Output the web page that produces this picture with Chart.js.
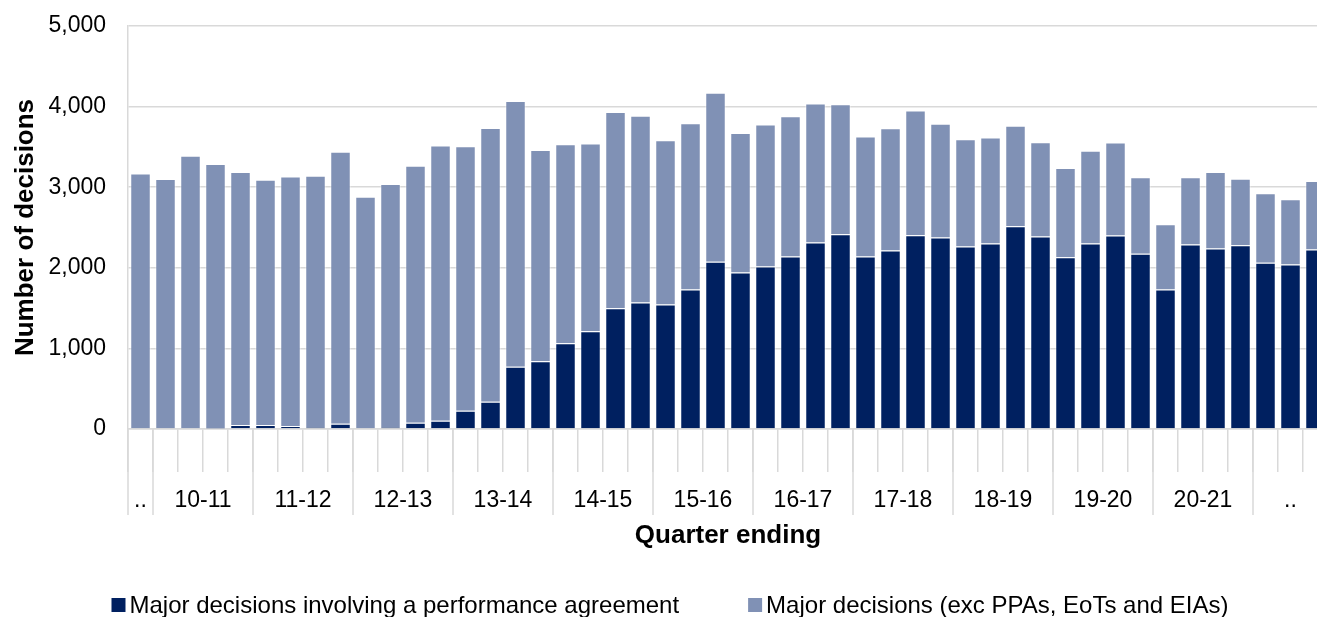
<!DOCTYPE html>
<html>
<head>
<meta charset="utf-8">
<script src="https://cdn.jsdelivr.net/npm/chart.js@4.4.1/dist/chart.umd.min.js"></script>
<style>
  html, body { margin: 0; padding: 0; background: #ffffff; overflow: hidden; }
  #wrap { width: 1340px; height: 617px; }
</style>
</head>
<body>
<div id="wrap"><canvas id="chart" width="1340" height="617"></canvas></div>
<script>
// quarter ending (hidden on the axis, grouped by financial year below)
const quarters = [
  "Mar 10",
  "Jun 10", "Sep 10", "Dec 10", "Mar 11",
  "Jun 11", "Sep 11", "Dec 11", "Mar 12",
  "Jun 12", "Sep 12", "Dec 12", "Mar 13",
  "Jun 13", "Sep 13", "Dec 13", "Mar 14",
  "Jun 14", "Sep 14", "Dec 14", "Mar 15",
  "Jun 15", "Sep 15", "Dec 15", "Mar 16",
  "Jun 16", "Sep 16", "Dec 16", "Mar 17",
  "Jun 17", "Sep 17", "Dec 17", "Mar 18",
  "Jun 18", "Sep 18", "Dec 18", "Mar 19",
  "Jun 19", "Sep 19", "Dec 19", "Mar 20",
  "Jun 20", "Sep 20", "Dec 20", "Mar 21",
  "Jun 21", "Sep 21", "Dec 21"
];

const yearLabels = ["..", "10-11", "11-12", "12-13", "13-14", "14-15", "15-16",
  "16-17", "17-18", "18-19", "19-20", "20-21", ".."];
const yearCounts = [1, 4, 4, 4, 4, 4, 4, 4, 4, 4, 4, 4, 3];

const withAgreement = [
  0,
  0, 0, 5, 50,
  50, 37, 25, 66,
  10, 25, 78, 103,
  227, 338, 771, 841,
  1064, 1212, 1497, 1571,
  1546, 1732, 2074, 1942,
  2016, 2140, 2313, 2416,
  2140, 2214, 2404, 2375,
  2264, 2301, 2515, 2388,
  2132, 2301, 2400, 2173,
  1732, 2289, 2239, 2280,
  2062, 2041, 2227
];

const otherMajor = [
  3171,
  3101, 3390, 3282, 3138,
  3043, 3097, 3117, 3373,
  2872, 3014, 3188, 3415,
  3282, 3398, 3299, 2619,
  2470, 2330, 2437, 2314,
  2038, 2062, 2099, 1732,
  1761, 1740, 1724, 1613,
  1489, 1518, 1547, 1411,
  1332, 1315, 1246, 1171,
  1105, 1151, 1155, 949,
  808, 833, 949, 825,
  862, 808, 849
];

const seriesNames = [
  "Major decisions involving a performance agreement",
  "Major decisions (exc PPAs, EoTs and EIAs)"
];
const yTicks = [0, 1000, 2000, 3000, 4000, 5000];

const FONT = "'Liberation Sans', Arial, sans-serif";
const GRID = "#d9d9d9";

// financial year groups under the quarter ticks
const yearGroups = {
  id: "yearGroups",
  afterDraw(chart) {
    const { ctx, scales: { x } } = chart;
    const half = (x.getPixelForValue(1) - x.getPixelForValue(0)) / 2;
    ctx.save();
    ctx.strokeStyle = GRID;
    ctx.lineWidth = 1.5;
    ctx.fillStyle = "#000000";
    ctx.font = "23px " + FONT;
    ctx.textAlign = "center";
    ctx.textBaseline = "middle";
    let start = 0;
    yearLabels.forEach((lab, g) => {
      const n = yearCounts[g];
      const left = x.getPixelForValue(start) - half;
      const right = x.getPixelForValue(start + n - 1) + half;
      ctx.beginPath();
      ctx.moveTo(left, x.top);
      ctx.lineTo(left, x.top + 86);
      ctx.stroke();
      ctx.fillText(lab, (left + right) / 2, x.top + 72);
      start += n;
    });
    ctx.restore();
  },
};

// legend with a tight box-to-text gap
const bottomLegend = {
  id: "bottomLegend",
  afterDraw(chart) {
    const { ctx } = chart;
    const box = 14, gap = 4, spacing = 69, y = 605;
    ctx.save();
    ctx.font = "24px " + FONT;
    ctx.textBaseline = "middle";
    ctx.textAlign = "left";
    const sets = chart.data.datasets;
    const widths = sets.map((d) => box + gap + ctx.measureText(d.label).width);
    const total = widths.reduce((a, b) => a + b, 0) + spacing * (sets.length - 1);
    let cx = chart.width / 2 - total / 2;
    sets.forEach((d, i) => {
      ctx.fillStyle = d.backgroundColor;
      ctx.fillRect(cx, y - box / 2, box, box);
      ctx.fillStyle = "#000000";
      ctx.fillText(d.label, cx + box + gap, y + 1);
      cx += widths[i] + spacing;
    });
    ctx.restore();
  },
};

new Chart(document.getElementById("chart"), {
  type: "bar",
  data: {
    labels: quarters,
    datasets: [
      {
        label: seriesNames[0],
        data: withAgreement,
        backgroundColor: "#002060",
        borderColor: "rgba(255,255,255,0.55)",
        borderWidth: 1,
        barPercentage: 0.82,
        categoryPercentage: 1.0,
      },
      {
        label: seriesNames[1],
        data: otherMajor,
        backgroundColor: "#8091B5",
        borderColor: "rgba(255,255,255,0.55)",
        borderWidth: 1,
        barPercentage: 0.82,
        categoryPercentage: 1.0,
      },
    ],
  },
  options: {
    responsive: false,
    animation: false,
    layout: { padding: { top: 26, left: 6, right: 12, bottom: 50 } },
    scales: {
      x: {
        stacked: true,
        grid: {
          drawOnChartArea: false,
          drawTicks: true,
          tickLength: 43,
          color: GRID,
          lineWidth: 1.5,
        },
        border: { display: true, color: GRID, width: 1.5 },
        ticks: { display: false, autoSkip: false },
        title: {
          display: true,
          text: "Quarter ending",
          color: "#000000",
          font: { family: FONT, size: 26, weight: "bold" },
          padding: { top: 4, bottom: 16 },
        },
        afterFit(scale) {
          scale.height = 138;
        },
      },
      y: {
        stacked: true,
        min: yTicks[0],
        max: yTicks[yTicks.length - 1],
        afterBuildTicks(scale) {
          scale.ticks = yTicks.map((v) => ({ value: v }));
        },
        grid: { color: GRID, lineWidth: 1.5, drawTicks: false },
        border: { display: true, color: GRID, width: 1.5 },
        ticks: {
          padding: 22,
          color: "#000000",
          font: { family: FONT, size: 23 },
          callback: (v) => Number(v).toLocaleString("en-US"),
        },
        title: {
          display: true,
          text: "Number of decisions",
          color: "#000000",
          font: { family: FONT, size: 26, weight: "bold" },
          padding: { top: 4, bottom: 4 },
        },
        afterFit(scale) {
          scale.width = 122;
          scale.paddingTop = 0;
          scale.paddingBottom = 0;
        },
      },
    },
    plugins: {
      legend: { display: false },
      tooltip: { enabled: false },
    },
  },
  plugins: [yearGroups, bottomLegend],
});
</script>
</body>
</html>
